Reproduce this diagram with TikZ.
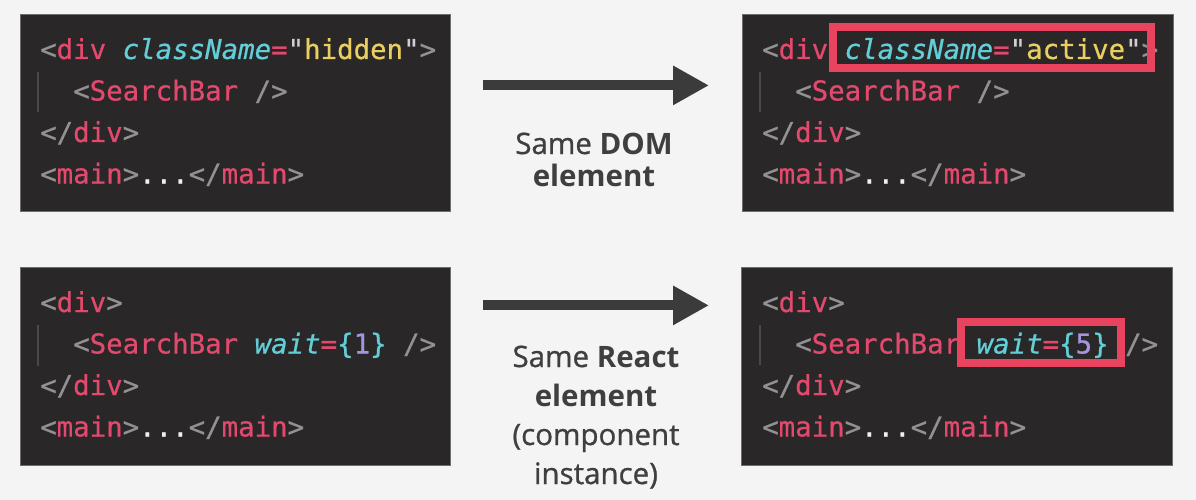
\documentclass[tikz,border=0pt]{standalone}
\usepackage{fontspec}
\usetikzlibrary{arrows.meta}
\setmainfont[UprightFeatures={FakeBold=0.9}]{Open Sans}
\newfontfamily\codefont[Ligatures=TeXOff,FakeBold=0.6]{DejaVu Sans Mono}
\definecolor{pagebg}{HTML}{F4F4F4}
\definecolor{codebg}{HTML}{2A2729}
\definecolor{codeedge}{HTML}{6E6C6D}
\definecolor{tagpink}{HTML}{E2496D}
\definecolor{punctgray}{HTML}{939293}
\definecolor{attrcyan}{HTML}{62CFD8}
\definecolor{stryellow}{HTML}{E8CF5F}
\definecolor{numpurple}{HTML}{A594E0}
\definecolor{dotwhite}{HTML}{F0F0F0}
\definecolor{quotegray}{HTML}{D0D0D0}
\definecolor{guidegray}{HTML}{4A4849}
\definecolor{hlred}{HTML}{E8445F}
\definecolor{labelgray}{HTML}{3F3F3F}
\definecolor{arrowgray}{HTML}{3B3B3B}
\newcommand\cP[1]{\textcolor{tagpink}{#1}}
\newcommand\cG[1]{\textcolor{punctgray}{#1}}
\newcommand\cC[1]{\textcolor{attrcyan}{#1}}
\newcommand\cI[1]{\textcolor{attrcyan}{\itshape #1}}
\newcommand\cY[1]{\textcolor{stryellow}{#1}}
\newcommand\cU[1]{\textcolor{numpurple}{#1}}
\newcommand\cW[1]{\textcolor{dotwhite}{#1}}
\newcommand\cQ[1]{\textcolor{quotegray}{#1}}
\tikzset{
  codebox/.style={draw=codeedge, line width=0.8pt, fill=codebg, anchor=north west, inner sep=0pt},
  codeline/.style={anchor=base west, inner sep=0pt, font=\codefont\fontsize{27.4}{30}\selectfont},
  guide/.style={draw=guidegray, line width=2pt},
  hlbox/.style={draw=hlred, line width=8pt, inner sep=0pt},
  lbl/.style={anchor=base, inner sep=0pt, text=labelgray, font=\fontsize{29.5}{34}\selectfont},
  bigarrow/.style={draw=arrowgray, line width=10pt, -{Triangle[length=36pt,width=37pt]}}
}
\begin{document}
\begin{tikzpicture}[x=1pt,y=-1pt]
\useasboundingbox (0,0) rectangle (1196,500);
\fill[pagebg] (0,0) rectangle (1196,500);
% boxes
\node[codebox, minimum width=430pt, minimum height=197pt] (b1) at (20,14) {};
\node[codebox, minimum width=431pt, minimum height=197pt] (b2) at (742,14) {};
\node[codebox, minimum width=430pt, minimum height=198pt] (b3) at (20,267) {};
\node[codebox, minimum width=431pt, minimum height=198pt] (b4) at (741,267) {};
% indent guides
\coordinate (g1a) at (38,72);  \coordinate (g1b) at (38,112);
\coordinate (g2a) at (760,72); \coordinate (g2b) at (760,112);
\coordinate (g3a) at (38,325); \coordinate (g3b) at (38,366);
\coordinate (g4a) at (760,325); \coordinate (g4b) at (760,365);
\draw[guide] (g1a) -- (g1b);
\draw[guide] (g2a) -- (g2b);
\draw[guide] (g3a) -- (g3b);
\draw[guide] (g4a) -- (g4b);
% top-left code
\node[codeline] (t1l1) at (40,59) {\cG{<}\cP{div}~\cI{className}\cP{=}\cQ{"}\cY{hidden}\cQ{"}\cG{>}};
\node[codeline] (t1l2) at (73,100.5) {\cG{<}\cP{SearchBar}~\cG{/>}};
\node[codeline] (t1l3) at (40,142) {\cG{</}\cP{div}\cG{>}};
\node[codeline] (t1l4) at (40,183.5) {\cG{<}\cP{main}\cG{>}\cW{...}\cG{</}\cP{main}\cG{>}};
% top-right code
\node[codeline] (t2l1) at (762,59) {\cG{<}\cP{div}~\cI{className}\cP{=}\cQ{"}\cY{active}\cQ{"}\cG{>}};
\node[codeline] (t2l2) at (795,100.5) {\cG{<}\cP{SearchBar}~\cG{/>}};
\node[codeline] (t2l3) at (762,142) {\cG{</}\cP{div}\cG{>}};
\node[codeline] (t2l4) at (762,183.5) {\cG{<}\cP{main}\cG{>}\cW{...}\cG{</}\cP{main}\cG{>}};
% bottom-left code
\node[codeline] (t3l1) at (40,312) {\cG{<}\cP{div}\cG{>}};
\node[codeline] (t3l2) at (73,353.5) {\cG{<}\cP{SearchBar}~\cI{wait}\cP{=}\cC{\{}\cU{1}\cC{\}}~\cG{/>}};
\node[codeline] (t3l3) at (40,395) {\cG{</}\cP{div}\cG{>}};
\node[codeline] (t3l4) at (40,436.5) {\cG{<}\cP{main}\cG{>}\cW{...}\cG{</}\cP{main}\cG{>}};
% bottom-right code
\node[codeline] (t4l1) at (762,312) {\cG{<}\cP{div}\cG{>}};
\node[codeline] (t4l2) at (795,353.5) {\cG{<}\cP{SearchBar}~\cI{wait}\cP{=}\cC{\{}\cU{5}\cC{\}}~\cG{/>}};
\node[codeline] (t4l3) at (762,395) {\cG{</}\cP{div}\cG{>}};
\node[codeline] (t4l4) at (762,436.5) {\cG{<}\cP{main}\cG{>}\cW{...}\cG{</}\cP{main}\cG{>}};
% highlights
\node[hlbox, minimum width=318pt, minimum height=41pt] (h1) at (992,47.5) {};
\node[hlbox, minimum width=160pt, minimum height=41pt] (h2) at (1041,342.5) {};
% arrows
\draw[bigarrow, shorten <=32pt, shorten >=33pt] ([yshift=27.5pt]b1.east) -- ([yshift=27.5pt]b2.west);
\draw[bigarrow, shorten <=32pt, shorten >=32pt] ([yshift=61pt]b3.east) -- ([yshift=61pt]b4.west);
% labels
\node[lbl] (la1) at (594,154) {Same \textbf{DOM}};
\node[lbl] (la2) at (594,186) {\textbf{element}};
\node[lbl] (lb1) at (596,367) {Same \textbf{React}};
\node[lbl] (lb2) at (596,406) {\textbf{element}};
\node[lbl] (lb3) at (596,445) {(component};
\node[lbl] (lb4) at (596,484) {instance)};
\end{tikzpicture}
\end{document}
